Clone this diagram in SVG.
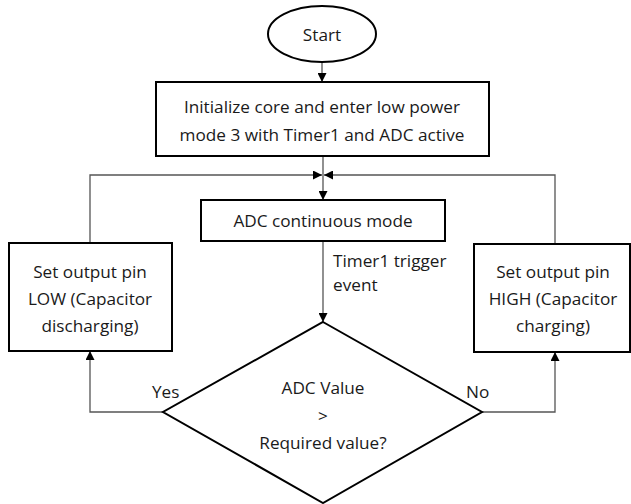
<svg xmlns="http://www.w3.org/2000/svg" width="631" height="504" viewBox="0 0 631 504">
<defs>
<marker id="ah" viewBox="0 0 10 10" refX="10" refY="5" markerWidth="9" markerHeight="9" markerUnits="userSpaceOnUse" orient="auto">
<path d="M0,0 L10,5 L0,10 z" fill="#000"/>
</marker>
</defs>
<style>
.shape{fill:#fff;stroke:#000;stroke-width:2}
.t{font-family:"Open Sans","Noto Sans",sans-serif;font-size:17.2px;fill:#1a1a1a;text-anchor:middle}
.l{font-family:"Open Sans","Noto Sans",sans-serif;font-size:17.2px;fill:#1a1a1a}
.c{fill:none;stroke:#555;stroke-width:1.3}
</style>
<rect width="631" height="504" fill="#fff"/>
<g id="connectors">
<path class="c" d="M322,62 V82" marker-end="url(#ah)"/>
<path class="c" d="M323,156 V200" marker-end="url(#ah)"/>
<path class="c" d="M90,243 V175 H322" marker-end="url(#ah)"/>
<path class="c" d="M555,244 V175 H324" marker-end="url(#ah)"/>
<path class="c" d="M323,241 V322" marker-end="url(#ah)"/>
<path class="c" d="M163,412 H90 V351" marker-end="url(#ah)"/>
<path class="c" d="M482,412 H555 V352" marker-end="url(#ah)"/>
<text class="l" x="333" y="267">Timer1 trigger</text>
<text class="l" x="333" y="291">event</text>
<text class="l" x="152" y="398">Yes</text>
<text class="l" x="466" y="398">No</text>
</g>
<g id="start">
<ellipse class="shape" cx="322" cy="34" rx="54" ry="28"/>
<text class="t" x="322" y="41">Start</text>
</g>
<g id="init">
<rect class="shape" x="156" y="82" width="333" height="74"/>
<text class="t" x="322" y="113">Initialize core and enter low power</text>
<text class="t" x="322" y="141">mode 3 with Timer1 and ADC active</text>
</g>
<g id="adc">
<rect class="shape" x="201" y="200" width="244" height="41"/>
<text class="t" x="323" y="227">ADC continuous mode</text>
</g>
<g id="low">
<rect class="shape" x="9" y="243" width="163" height="108"/>
<text class="t" x="90" y="278">Set output pin</text>
<text class="t" x="90" y="305">LOW (Capacitor</text>
<text class="t" x="90" y="332">discharging)</text>
</g>
<g id="high">
<rect class="shape" x="474" y="244" width="156" height="108"/>
<text class="t" x="553" y="278">Set output pin</text>
<text class="t" x="553" y="305">HIGH (Capacitor</text>
<text class="t" x="553" y="332">charging)</text>
</g>
<g id="decision">
<polygon class="shape" points="323,322 482,412 323,503 163,412"/>
<text class="t" x="323" y="394">ADC Value</text>
<text class="t" x="323" y="422">&gt;</text>
<text class="t" x="323" y="449">Required value?</text>
</g>
</svg>
